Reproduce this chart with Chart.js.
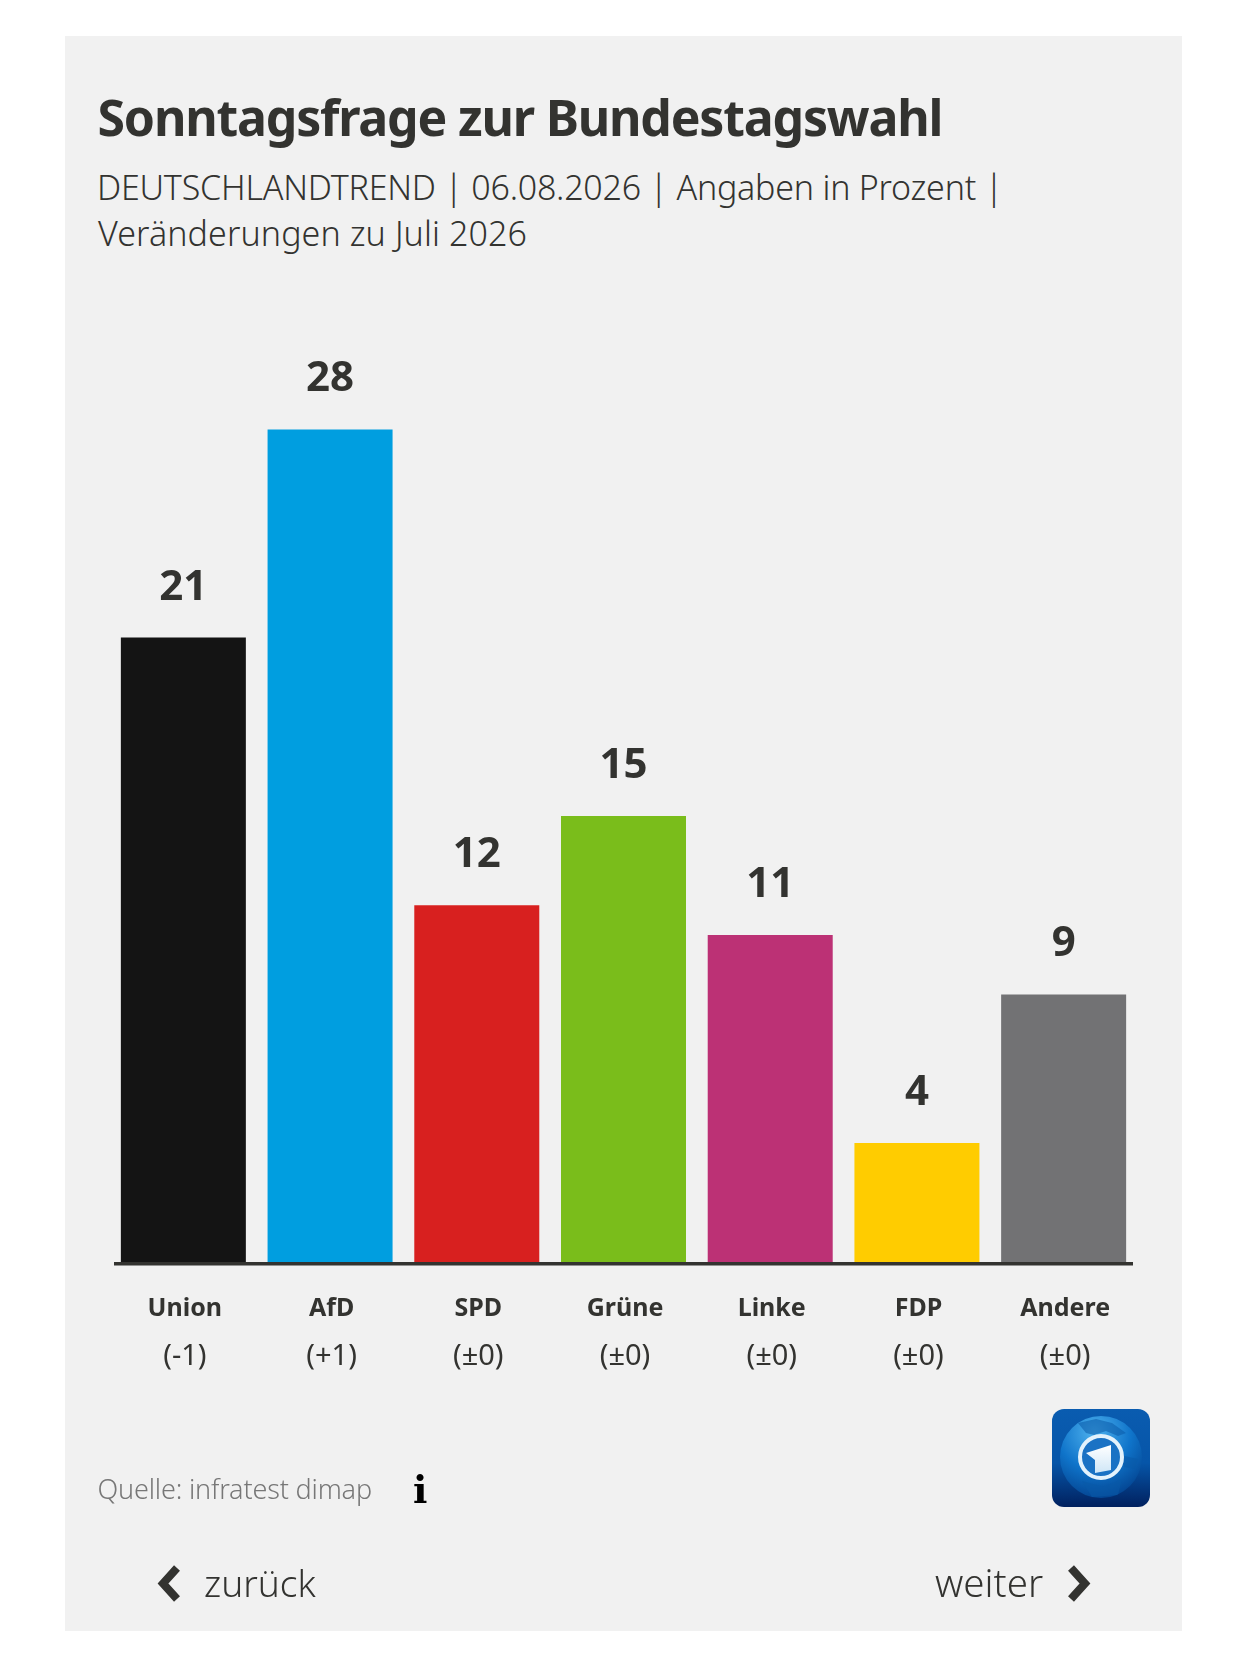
<!DOCTYPE html>
<html lang="de">
<head>
<meta charset="utf-8">
<title>Sonntagsfrage zur Bundestagswahl</title>
<script src="https://cdn.jsdelivr.net/npm/chart.js@4"></script>
<style>
html,body{margin:0;padding:0;background:#fff}
body{position:relative;width:1247px;height:1663px;overflow:hidden;font-family:"Noto Sans",sans-serif;color:#333330}
#panel{position:absolute;left:65px;top:36px;width:1117px;height:1595px;background:#f1f1f1}
canvas{position:absolute;left:0;top:0}
.t{position:absolute;white-space:nowrap;line-height:1}
#title{left:97.5px;top:92px;font-size:50px;font-weight:700;letter-spacing:-1.2px}
#sub1{left:97px;top:170px;font-size:34px;font-weight:300;letter-spacing:-.22px}
#sub2{left:98px;top:216px;font-size:34px;font-weight:300;letter-spacing:.1px}
#src{left:97.5px;top:1475px;font-size:27px;font-weight:300;color:#777;letter-spacing:-.17px}
#info{left:413px;top:1471px;font-family:"DejaVu Serif",serif;font-weight:700;font-size:38px;color:#000}
#back{left:204px;top:1564px;font-size:37px;font-weight:300}
#next{left:935px;top:1563px;font-size:38.5px;font-weight:300}
svg{position:absolute}
</style>
</head>
<body>
<div id="panel"></div>
<div class="t" id="title">Sonntagsfrage zur Bundestagswahl</div>
<div class="t" id="sub1">DEUTSCHLANDTREND | 06.08.2026 | Angaben in Prozent |</div>
<div class="t" id="sub2">Veränderungen zu Juli 2026</div>
<canvas id="c" width="1247" height="1663" style="width:1247px;height:1663px"></canvas>
<div class="t" id="src">Quelle: infratest dimap</div>
<div class="t" id="info">i</div>
<svg style="left:1052px;top:1409px" width="98" height="98" viewBox="0 0 98 98">
<defs>
<linearGradient id="bg" x1="0" y1="0" x2="0" y2="1"><stop offset="0" stop-color="#0a5cb0"/><stop offset=".55" stop-color="#0655a8"/><stop offset="1" stop-color="#01215f"/></linearGradient>
<radialGradient id="gl" cx=".42" cy=".2" r=".9"><stop offset="0" stop-color="#4fb2ee"/><stop offset=".5" stop-color="#0f74ca"/><stop offset="1" stop-color="#013a85"/></radialGradient>
<linearGradient id="one" x1="0" y1="0" x2="0" y2="1"><stop offset="0" stop-color="#ffffff"/><stop offset="1" stop-color="#cfe6f7"/></linearGradient>
<clipPath id="globe"><circle cx="49" cy="48" r="41"/></clipPath>
</defs>
<rect width="98" height="98" rx="12" fill="url(#bg)"/>
<circle cx="49" cy="48" r="41" fill="url(#gl)"/>
<g clip-path="url(#globe)" fill="#0a5aa8" opacity=".55">
<path d="M26 14 L44 10 L60 14 L74 24 L66 27 L54 22 L42 26 L34 24 Z"/>
<path d="M68 46 L86 50 L82 60 L72 58 Z"/>
<path d="M30 72 L52 78 L70 70 L66 86 L40 88 Z"/>
</g>
<circle cx="49" cy="48" r="21" fill="#1a72c4" stroke="#e3f2fc" stroke-width="4"/>
<path d="M34 44 L59 36 V61 L43 64 V51 Z" fill="url(#one)"/>
</svg>
<svg style="left:157px;top:1565px" width="26" height="37" viewBox="0 0 26 37"><path d="M20 3 L6 18.5 L20 34" fill="none" stroke="#333330" stroke-width="8"/></svg>
<div class="t" id="back">zurück</div>
<div class="t" id="next">weiter</div>
<svg style="left:1065px;top:1565px" width="26" height="37" viewBox="0 0 26 37"><path d="M6 3 L20 18.5 L6 34" fill="none" stroke="#333330" stroke-width="8"/></svg>
<script>
const parties = ["Union","AfD","SPD","Grüne","Linke","FDP","Andere"];
const changes = ["(-1)","(+1)","(±0)","(±0)","(±0)","(±0)","(±0)"];
const values = [21,28,12,15,11,4,9];
const colors = ["#141414","#009ee0","#d8201f","#7abd1b","#bc3175","#ffcc00","#727274"];
const ink = "#333330";
const fontFamily = '"Noto Sans", sans-serif';

const extras = {
  id:"extras",
  afterDatasetsDraw(chart){
    const {ctx} = chart, y = chart.scales.y;
    ctx.save();
    ctx.fillStyle = ink;
    ctx.font = "700 42px " + fontFamily;
    ctx.textAlign = "center";
    ctx.textBaseline = "alphabetic";
    chart.getDatasetMeta(0).data.forEach((bar,i)=>{
      ctx.fillText(String(values[i]), bar.x, y.getPixelForValue(values[i]) - 38);
    });
    ctx.strokeStyle = ink;
    ctx.lineWidth = 3.5;
    ctx.beginPath();
    ctx.moveTo(chart.chartArea.left + 4, chart.chartArea.bottom + 1.75);
    ctx.lineTo(chart.chartArea.right - 4, chart.chartArea.bottom + 1.75);
    ctx.stroke();
    ctx.restore();
  }
};

new Chart(document.getElementById("c"),{
  type:"bar",
  data:{labels:parties,datasets:[{data:values,backgroundColor:colors,borderWidth:0,barPercentage:.852,categoryPercentage:1,xAxisID:"x",yAxisID:"y"}]},
  plugins:[extras],
  options:{
    responsive:false,animation:false,devicePixelRatio:1,
    layout:{padding:{left:110,right:110,top:370,bottom:269}},
    plugins:{legend:{display:false},tooltip:{enabled:false}},
    scales:{
      y:{display:false,min:0,max:30},
      x:{
        type:"category",position:"bottom",offset:true,labels:parties,
        grid:{display:false},border:{display:false},
        ticks:{color:ink,font:{family:fontFamily,size:25,weight:"700"},padding:24,labelOffset:1.5,maxRotation:0,autoSkip:false},
        afterFit(s){s.height=62}
      },
      xChange:{
        type:"category",position:"bottom",offset:true,labels:changes,
        grid:{display:false},border:{display:false},
        ticks:{color:ink,font:{family:fontFamily,size:29},padding:7,labelOffset:1.5,maxRotation:0,autoSkip:false},
        afterFit(s){s.height=70}
      }
    }
  }
});
</script>
</body>
</html>
